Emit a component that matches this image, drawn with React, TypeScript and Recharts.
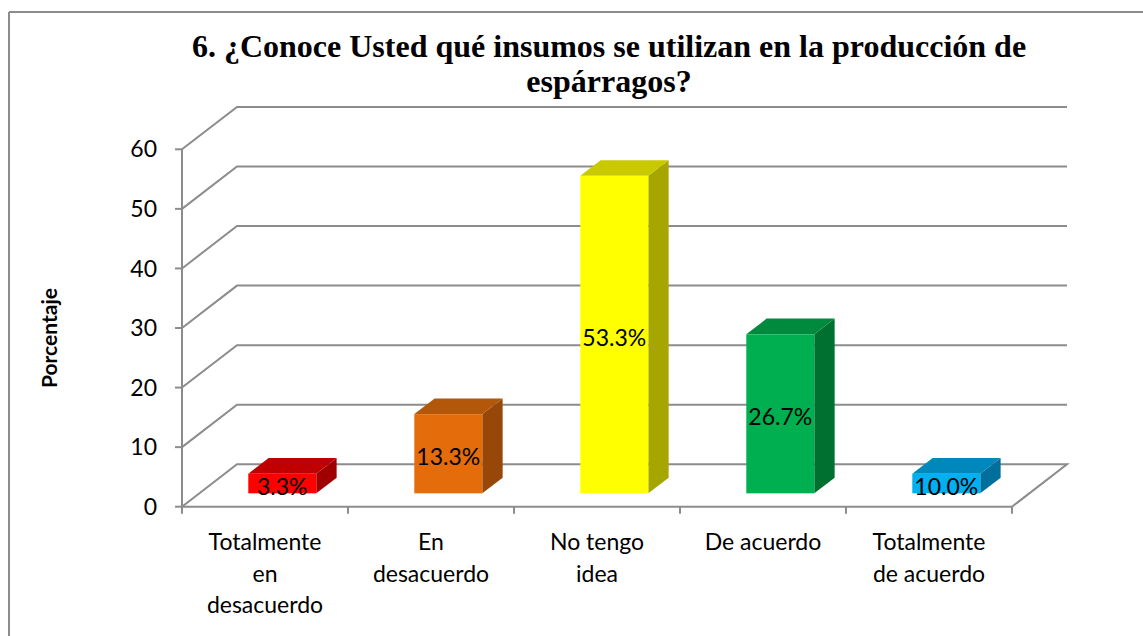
import React from "react";
import { BarChart, Bar, XAxis, YAxis, CartesianGrid, LabelList } from "recharts";

// ---------- data ----------
const CATEGORIES = [
  "Totalmente en desacuerdo",
  "En desacuerdo",
  "No tengo idea",
  "De acuerdo",
  "Totalmente de acuerdo",
];
const TICK_LINES = [
  ["Totalmente", "en", "desacuerdo"],
  ["En", "desacuerdo"],
  ["No tengo", "idea"],
  ["De acuerdo"],
  ["Totalmente", "de acuerdo"],
];
const VALUES = [3.3, 13.3, 53.3, 26.7, 3.3];
const LABELS = ["3.3%", "13.3%", "53.3%", "26.7%", "10.0%"];
const Y_TICKS = [0, 10, 20, 30, 40, 50, 60];
const TITLE_LINES = ["6. ¿Conoce Usted qué insumos se utilizan en la producción de", "espárragos?"];
const Y_LABEL = "Porcentaje";

// ---------- styles ----------
const FRONT = ["#FF0000", "#E46C0A", "#FFFF00", "#00B050", "#00B0F0"];
const TOP = ["#C00000", "#B3570A", "#C9C900", "#008A3E", "#0087BB"];
const SIDE = ["#A00000", "#974808", "#A6A600", "#007030", "#006F9C"];
const GRAY = "#8C8C8C";
const FONT = "Lato, 'Open Sans', sans-serif";
const SERIF = "'Liberation Serif', 'Times New Roman', 'DejaVu Serif', serif";

const W = 1143;
const H = 636;
const MARGIN = { top: 149.3, right: 131, bottom: 29.3, left: 82 };
const XAXIS_H = 100;
const YAXIS_W = 100;
const PLOT_W = W - MARGIN.left - YAXIS_W - MARGIN.right;
const PLOT_BOTTOM = H - MARGIN.bottom - XAXIS_H;

// 3D geometry
const DX = 55; // wall depth x
const DY = 42.4; // wall depth y
const FX = DX * 0.315; // bar front-face offset
const FY = DY * 0.315;
const BX = DX * 0.37; // bar depth
const BY = DY * 0.37;

const data = CATEGORIES.map((name, i) => ({ name, value: VALUES[i], label: LABELS[i] }));

const renderGridLine = (props: any) => {
  const { x1, y1, x2, index } = props;
  const isBottom = Math.abs(y1 - PLOT_BOTTOM) < 1;
  let d = `M${x1},${y1} L${x1 + DX},${y1 - DY} L${x2 + DX},${y1 - DY}`;
  if (isBottom) d += ` L${x2},${y1}`;
  return <path key={`g-${index}-${y1}`} d={d} fill="none" stroke={GRAY} strokeWidth={2} />;
};

const Box3D = (props: any) => {
  const { x, y, width, height, index } = props;
  if (x == null || height == null) return null;
  const fx = x + FX;
  const fy = y - FY;
  const h = height;
  const top = `${fx},${fy} ${fx + BX},${fy - BY} ${fx + width + BX},${fy - BY} ${fx + width},${fy}`;
  const side = `${fx + width},${fy} ${fx + width + BX},${fy - BY} ${fx + width + BX},${fy + h - BY} ${fx + width},${fy + h}`;
  return (
    <g>
      <polygon points={side} fill={SIDE[index]} />
      <polygon points={top} fill={TOP[index]} />
      <rect x={fx} y={fy} width={width} height={h} fill={FRONT[index]} />
    </g>
  );
};

const BarLabel = (props: any) => {
  const vb = props.viewBox || {};
  const x = props.x ?? vb.x;
  const y = props.y ?? vb.y;
  const width = props.width ?? vb.width;
  const height = props.height ?? vb.height;
  if (x == null) return null;
  const cx = x + width / 2 + FX;
  const cy = y + height / 2 - FY;
  return (
    <text x={cx} y={cy + 11.3} textAnchor="middle" fontSize={23} style={{ fontFamily: FONT }} fill="#000">
      {props.value}
    </text>
  );
};

const CatTick = (props: any) => {
  const { x, y, index } = props;
  const band = PLOT_W / CATEGORIES.length;
  const lines = TICK_LINES[index] || [];
  const last = index === CATEGORIES.length - 1;
  return (
    <g>
      <line x1={x - band / 2} y1={y} x2={x - band / 2} y2={y + 7} stroke={GRAY} strokeWidth={2} />
      {last && <line x1={x + band / 2} y1={y} x2={x + band / 2} y2={y + 7} stroke={GRAY} strokeWidth={2} />}
      <text x={x} y={y + 43.3} textAnchor="middle" fontSize={23} style={{ fontFamily: FONT }} fill="#000">
        {lines.map((l, i) => (
          <tspan key={i} x={x} dy={i === 0 ? 0 : 31.7}>
            {l}
          </tspan>
        ))}
      </text>
    </g>
  );
};

export default function App() {
  return (
    <div style={{ position: "absolute", left: 0, top: 0, width: W, height: H, overflow: "hidden", background: "#fff" }}>
      <svg width={W} height={H} style={{ position: "absolute", left: 0, top: 0 }}>
        <line x1={9} y1={12} x2={W + 5} y2={12} stroke={GRAY} strokeWidth={2} />
        <line x1={9} y1={12} x2={9} y2={H + 5} stroke={GRAY} strokeWidth={2} />
        {TITLE_LINES.map((t, i) => (
          <text
            key={i}
            x={609}
            y={57 + i * 35}
            textAnchor="middle"
            style={{ fontFamily: SERIF, fontWeight: 700, fontSize: 32 }}
            fill="#000"
          >
            {t}
          </text>
        ))}
        <text
          x={48}
          y={338}
          transform="rotate(-90 48 338)"
          textAnchor="middle"
          dominantBaseline="central"
          style={{ fontFamily: FONT, fontWeight: 700, fontSize: 21 }}
          fill="#000"
        >
          {Y_LABEL}
        </text>
      </svg>
      <div style={{ position: "absolute", left: 0, top: 0 }}>
        <BarChart width={W} height={H} data={data} margin={MARGIN} barCategoryGap="29.5%">
          <CartesianGrid vertical={false} horizontal={renderGridLine as any} />
          <XAxis
            dataKey="name"
            height={XAXIS_H}
            interval={0}
            axisLine={{ stroke: GRAY, strokeWidth: 2 }}
            tickLine={false}
            tickSize={0}
            tickMargin={0}
            tick={<CatTick />}
          />
          <YAxis
            width={YAXIS_W}
            domain={[0, 60]}
            ticks={Y_TICKS}
            interval={0}
            tickSize={7}
            tickMargin={18}
            axisLine={{ stroke: GRAY, strokeWidth: 2 }}
            tickLine={{ stroke: GRAY, strokeWidth: 2 }}
            tick={{ fill: "#000", fontSize: 23, fontFamily: FONT }}
          />
          <Bar dataKey="value" isAnimationActive={false} shape={Box3D}>
            <LabelList dataKey="label" content={BarLabel} />
          </Bar>
        </BarChart>
      </div>
    </div>
  );
}
